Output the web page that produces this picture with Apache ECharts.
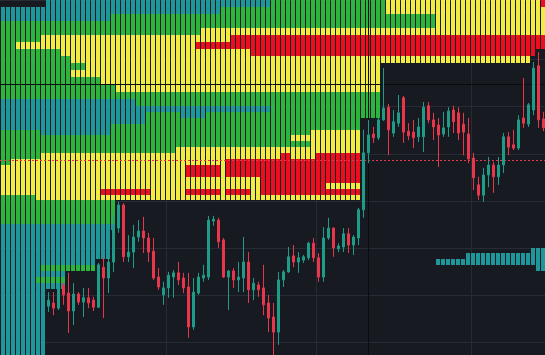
<!DOCTYPE html>
<html><head><meta charset="utf-8">
<script src="https://cdn.jsdelivr.net/npm/echarts@6/dist/echarts.min.js"></script>
<style>html,body{margin:0;padding:0;background:#181a22;}#c{width:545px;height:355px;}</style>
</head><body><div id="c"></div>
<script>
// ---- data ----
const categoryCount = 110;
const categories = Array.from({length: categoryCount}, (_, i) => String(i));
const firstCandleCol = 10;
const candleOpen = [6176,6183,6172,6221,6204,6166,6202,6185,6194,6189,
 6174,6259,6236,6270,6342,6391,6281,6291,6323,6336,
 6321,6293,6238,6200,6215,6238,6247,6236,6217,6132,
 6204,6236,6238,6357,6359,6317,6238,6251,6232,6236,
 6270,6211,6221,6215,6183,6153,6121,6232,6249,6283,
 6270,6274,6279,6310,6279,6238,6321,6342,6298,6302,
 6330,6306,6321,6381,6502,6542,6534,6572,6599,6544,
 6565,6619,6548,6546,6536,6536,6602,6572,6561,6542,
 6557,6593,6587,6563,6542,6491,6434,6412,6455,6476,
 6451,6476,6536,6519,6512,6576,6563,6593,6687,6574];
const candleClose = [6189,6172,6217,6200,6166,6202,6185,6194,6183,6174,
 6264,6236,6270,6342,6391,6281,6291,6323,6336,6321,
 6291,6236,6217,6215,6242,6247,6232,6215,6132,6206,
 6238,6242,6359,6361,6313,6238,6251,6232,6238,6270,
 6211,6225,6211,6179,6151,6121,6232,6249,6281,6270,
 6279,6281,6310,6279,6238,6321,6342,6300,6304,6330,
 6306,6323,6381,6502,6540,6534,6572,6597,6551,6568,
 6587,6546,6538,6534,6557,6599,6572,6557,6540,6555,
 6591,6568,6544,6546,6489,6449,6412,6455,6476,6451,
 6476,6536,6514,6512,6572,6565,6604,6682,6572,6555];
const candleHigh = [6206,6206,6225,6225,6247,6225,6206,6215,6215,6196,
 6268,6279,6285,6370,6398,6395,6327,6349,6359,6366,
 6332,6321,6257,6228,6249,6253,6270,6247,6247,6236,
 6247,6264,6368,6368,6364,6321,6253,6257,6270,6323,
 6291,6236,6228,6264,6200,6183,6249,6253,6302,6306,
 6291,6285,6313,6321,6289,6344,6364,6344,6310,6342,
 6342,6327,6385,6551,6572,6557,6576,6682,6606,6593,
 6625,6623,6565,6572,6576,6610,6610,6587,6576,6589,
 6599,6602,6599,6587,6576,6502,6451,6470,6493,6483,
 6493,6544,6546,6551,6582,6661,6608,6695,6716,6589];
const candleLow = [6164,6157,6168,6179,6119,6136,6179,6153,6172,6166,
 6172,6151,6204,6249,6332,6270,6270,6257,6313,6289,
 6270,6232,6211,6179,6194,6194,6221,6204,6109,6126,
 6200,6228,6232,6347,6300,6236,6168,6215,6206,6206,
 6183,6189,6196,6157,6121,6070,6094,6217,6247,6259,
 6247,6268,6274,6270,6228,6228,6317,6281,6291,6291,
 6289,6285,6306,6364,6480,6523,6529,6570,6497,6536,
 6557,6523,6529,6512,6525,6504,6565,6529,6472,6536,
 6536,6544,6529,6497,6480,6423,6402,6398,6429,6417,
 6434,6459,6497,6508,6508,6555,6557,6582,6555,6548];

// heatmap price-bin edges (top to bottom) and color runs per bin: "<code><startCol>"
const rowEdges = [6827,6812,6798,6783,6768,6752,6738,6723,6708,6693,6678,6663,6648,6632,6617,6602,6589,6575,6563,6550,
 6539,6527,6514,6502,6489,6476,6463,6451,6438,6425,6413,6401,6389,6376,6364,6351,6338,6325,6313,6300,
 6289,6276,6264,6251,6238,6225,6213,6200,6187,6174,6162,6149,6136,6123,6111,6098,6085,6070];
const heatRows = [
 ".0 t10 g55 y78 r109",
 "t0 g45 y78",
 "t0 g23 y88",
 "g0 y88",
 "g0 y41",
 "g0 y9 r47",
 "g0 y4 r40",
 "g0 y13 r51 .108",
 "g0 y15 .107",
 "g0 y18 .77",
 "g0 y15 .77",
 "g0 y21 .77",
 "g0 y24 .77",
 "g0 .77",
 "t0 g28 .77",
 "t0 g55 .77",
 "t0 g30 t37 g42 .77",
 "t0 g30 .73",
 "t0 g23 .73",
 "g0 t9 g23 y63 .73",
 "g0 y59 .73",
 "g0 y63 .73",
 "g0 y36 .73",
 "g0 y9 r57 y59 r64 .73",
 "g0 y3 r46 .73",
 "y0 r38 y45 r46 .73",
 "y0 r38 y45 r46 .73",
 "y0 r53 .73",
 "y0 r53 y66 .73",
 "y0 r21 y31 r38 y45 r46 y51 r53 .73",
 "g0 y8 .73",
 "g0 .24","g0 .24","g0 .24","g0 .24",
 "t0 .24","t0 .23","t0 .23","t0 .23",
 "t0 .23 t107",
 "t0 .23 t94",
 "t0 .20 t88",
 "t0 g9 .20 t108",
 "t0 .14",
 "t0 g8 .14",
 "t0 .14",
 "t0 .10","t0 .10","t0 .10","t0 .10","t0 .10","t0 .10","t0 .10","t0 .10","t0 .10","t0 .10","t0 .10"
];
const markPrice = 6486;
const crossPrice = 6648;
const crossCol = 74;
const gridCols = [34, 64, 95];

// ---- build ----
const heatColor = {t:'#1e979b', g:'#2db43c', y:'#f2ec42', r:'#ec0d1f'};
const heatData = [];
heatRows.forEach((s, r) => {
  const toks = s.split(' ');
  toks.forEach((tk, i) => {
    const c = tk[0];
    const start = +tk.slice(1);
    const end = i + 1 < toks.length ? +toks[i + 1].slice(1) : categoryCount;
    if (c === '.') return;
    for (let k = start; k < end; k++) heatData.push([k, rowEdges[r], rowEdges[r + 1], c]);
  });
});
const candleData = categories.map((_, i) => {
  const j = i - firstCandleCol;
  if (j < 0 || j >= candleOpen.length) return '-';
  return [candleOpen[j], candleClose[j], candleLow[j], candleHigh[j]];
});

const chart = echarts.init(document.getElementById('c'), null, {renderer: 'canvas'});
chart.setOption({
  backgroundColor: '#181a22',
  animation: false,
  grid: {left: -4, right: -1, top: 0, bottom: -34.06, outerBoundsMode: 'none', containLabel: false},
  xAxis: {
    type: 'category', data: categories, boundaryGap: true,
    axisLine: {show: false}, axisTick: {show: false}, axisLabel: {show: false},
    splitLine: {show: true, interval: (idx) => gridCols.includes(idx), lineStyle: {color: '#272b36', width: 1}}
  },
  yAxis: {
    type: 'value', min: 6000, max: 6826.75, interval: 100, scale: true,
    axisLine: {show: false}, axisTick: {show: false}, axisLabel: {show: false},
    splitLine: {show: true, lineStyle: {color: '#272b36', width: 1}}
  },
  series: [
    {
      type: 'custom', z: 2, silent: true, progressive: 0, clip: true,
      encode: {x: 0, y: [1, 2]},
      data: heatData,
      renderItem: (params, api) => {
        const x = api.value(0);
        const p1 = api.coord([x, api.value(1)]);
        const p2 = api.coord([x, api.value(2)]);
        const w = Math.round(api.size([1, 0])[0]);
        const left = Math.round(p1[0] - w / 2);
        const top = Math.round(p1[1]);
        const bot = Math.round(p2[1]);
        return {type: 'rect', shape: {x: left, y: top, width: w - 1, height: bot - top},
          style: {fill: heatColor[heatData[params.dataIndex][3]]}};
      }
    },
    {
      type: 'candlestick', z: 5, barWidth: 3, progressive: 0, silent: true,
      data: candleData,
      itemStyle: {color: '#1f9c88', color0: '#e8364b', borderColor: '#1f9c88', borderColor0: '#e8364b', borderWidth: 1},
      markLine: {
        silent: true, symbol: ['none', 'none'], animation: false,
        label: {show: false},
        data: [
          {yAxis: crossPrice, lineStyle: {color: '#0b0c10', type: 'solid', width: 1}},
          {xAxis: crossCol, lineStyle: {color: '#0b0c10', type: 'solid', width: 1}},
          {yAxis: markPrice, lineStyle: {color: '#e23a4c', type: [2, 2], width: 1}}
        ]
      }
    }
  ]
});
</script>
</body></html>
